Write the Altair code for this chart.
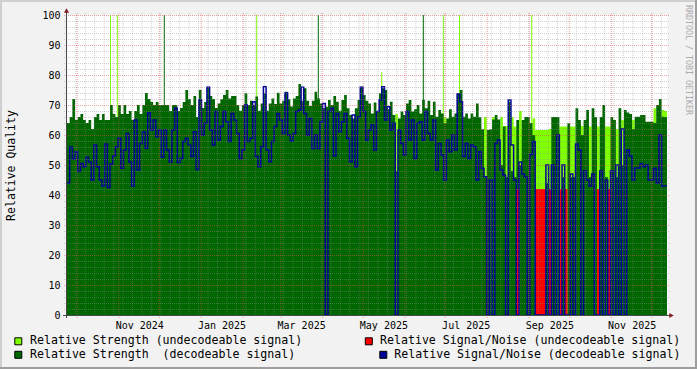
import altair as alt
import pandas as pd

# ---------------- data ----------------
# one value per time slot (slots spread evenly across the time axis)
strength_dec = [
    64, 66, 72, 65, 66, 67, 65, 64, 65, 62, 66, 67, 65, 67, 65, 65, 70, 67, 66, 70,
    67, 70, 67, 68, 65, 68, 70, 67, 70, 74, 72, 71, 70, 71, 70, 70, 70, 70, 68, 70,
    70, 68, 69, 71, 75, 72, 70, 73, 66, 75, 69, 71, 76, 73, 72, 69,
    70.5, 71.9, 73.3, 75, 72.2, 73, 73, 70, 68.1, 70, 73.9, 70, 71.4, 70, 72.8, 68.1,
    70.5, 73.9, 68.1, 70.5, 72.2, 70.3, 74.1, 70.5, 71.4, 74.4, 71.9, 69.5, 72.2, 73,
    77, 71.4, 75.6, 71.4, 69.7, 71.4, 74.4, 72.2, 70.5, 68.9, 69.4, 71.7, 70, 73, 71.1,
    68.1, 71.7, 73.3, 68.9, 66.7, 65.5, 68.9, 71.7, 76.1, 73.3,
    71.4, 70.5, 67.2, 70.8, 67.8, 73.9, 75.6, 75, 68.6, 71.1, 66.7, 48, 65.5, 67.8,
    66.7, 70.5, 71.7, 67.8, 68.6, 70, 67.2, 71.7, 68.9, 71.4, 66.7, 71.1, 66.1, 68.3,
    67.2, 63.9, 65.5, 68.6, 66.1, 67.2, 73.9, 75, 66.1, 67.2, 65.5, 67.2, 66.1, 70.5,
    65.9, 61.9, 46, 61.7, 61.9, 65.2, 66.7, 65.2, 50, 62.8, 46, 71.1, 48, 46,
    65, 50, 65, 66, 66, 64, 60, 0, 0, 0, 0, 44, 0, 66, 66, 66, 0, 46, 0, 63.9,
    46, 46, 68.9, 65, 60, 65, 68.3, 46, 68.9, 66, 0, 66, 70, 46, 0, 66, 65, 46,
    68.9, 50, 68.3, 67.5, 67, 62, 66.1, 66.1, 66.7, 66.7, 64.4, 64.4, 64.4, 64, 70, 72,
    66.1, 66,
]
strength_undec = [
    0, 0, 0, 0, 0, 0, 0, 0, 0, 0, 0, 0, 0, 0, 0, 0, 0, 0, 0, 0,
    0, 0, 0, 0, 0, 0, 0, 0, 0, 0, 0, 0, 0, 0, 0, 0, 0, 0, 0, 0,
    0, 0, 0, 0, 0, 0, 0, 0, 0, 0, 0, 0, 0, 0, 0, 0,
    0, 0, 0, 0, 0, 0, 0, 0, 0, 0, 0, 0, 0, 0, 0, 0, 0, 0, 0, 0,
    0, 0, 0, 0, 0, 0, 0, 0, 0, 0, 0, 0, 0, 0, 0, 0, 0, 0, 0, 0,
    0, 0, 0, 0, 0, 0, 0, 0, 0, 0, 0, 0, 0, 0, 0,
    0, 0, 0, 0, 0, 0, 0, 0, 0, 0, 0, 67, 0, 0, 0, 0, 0, 0, 0, 0,
    0, 0, 0, 0, 0, 0, 0, 0, 0, 66, 0, 0, 0, 0, 0, 0, 0, 0, 0, 0,
    0, 0, 0, 0, 66, 0, 0, 66, 0, 0, 66, 63, 63, 0, 66, 62.8,
    62, 68, 62, 0, 62, 62, 65.5, 61.7, 61.7, 61.7, 61.7, 61.7, 62, 62, 62, 62,
    62.8, 62.8, 62.8, 62.8, 62.8, 62.8, 0, 63, 63, 0, 0, 62.8, 0, 0, 62.8, 0, 0,
    62.8, 62.8, 62, 0, 62, 0, 65, 0, 0, 0, 65, 0, 0, 0, 0, 0, 0, 0, 68.9, 0, 0,
    68.3, 68,
]
snr_dec = [
    44, 56, 52, 54.4, 47.8, 50.5, 49.4, 52.6, 51, 45, 56.7, 49.4, 45, 43, 57, 42.5,
    50.3, 53, 56, 58.9, 48.9, 55, 60.5, 51, 43, 65, 48.3, 57.2, 61, 55.6, 67.4, 61.7,
    65, 59.4, 61.7, 52.6, 61.7, 55, 51, 61.7, 68.9, 50.8, 52.2, 57.8, 58.9, 56.7, 52.8,
    61.1, 48.5, 71.7, 60, 63.9, 75.9, 61.7, 56.7, 67.8,
    58.3, 62.8, 67.8, 64.4, 57.8, 67.2, 65, 60.5, 52.2, 55, 70, 57.8, 58.9, 71.1, 52.8,
    49.4, 56.1, 76.1, 55, 51.1, 57.8, 62.8, 67.2, 65, 60.5, 74, 60, 58, 60.5, 67.8,
    68.3, 75.9, 67.2, 60, 65.5, 55.5, 60, 55.5, 64.4, 70.5, 0, 67.8, 68.9, 53, 67.2,
    61.1, 64.4, 67.2, 58.9, 51.1, 66.7, 49.4, 66.1, 75.9, 67.8,
    58.3, 61.7, 63.3, 55, 67.8, 71.7, 76.1, 65, 69.4, 61.7, 63.9, 0, 61.7, 57.2, 53.3,
    67.8, 58.3, 65, 52.2, 63.9, 64.4, 58.3, 67.8, 60.5, 58.3, 65, 48.3, 57.2, 53.3, 45,
    58.3, 54.4, 60, 55, 73.7, 71.1, 52.8, 57.2, 52.2, 56.7, 56.1, 45, 54.4, 48.9, 46.1,
    0, 45, 0, 57.2, 58.3, 48.3, 46.7, 0, 71.7, 56.7, 45,
    0, 51, 47, 46, 0, 53.5, 57.8, 0, 0, 0, 0, 50, 0, 50, 0, 60, 0, 50, 0, 0,
    47, 0, 57, 55, 0, 48, 45, 43, 47, 0, 0, 48, 0, 45, 0, 48, 0, 50, 0, 62,
    0, 55, 53, 45, 49, 49, 50.5, 49.4, 50, 45, 45, 48.9, 44, 60, 43, 43,
]
snr_undec = [
    0, 0, 0, 0, 0, 0, 0, 0, 0, 0, 0, 0, 0, 0, 0, 0, 0, 0, 0, 0,
    0, 0, 0, 0, 0, 0, 0, 0, 0, 0, 0, 0, 0, 0, 0, 0, 0, 0, 0, 0,
    0, 0, 0, 0, 0, 0, 0, 0, 0, 0, 0, 0, 0, 0, 0, 0,
    0, 0, 0, 0, 0, 0, 0, 0, 0, 0, 0, 0, 0, 0, 0, 0, 0, 0, 0, 0,
    0, 0, 0, 0, 0, 0, 0, 0, 0, 0, 0, 0, 0, 0, 0, 0, 0, 0, 0, 0,
    0, 0, 0, 0, 0, 0, 0, 0, 0, 0, 0, 0, 0, 0, 0,
    0, 0, 0, 0, 0, 0, 0, 0, 0, 0, 0, 0, 0, 0, 0, 0, 0, 0, 0, 0,
    0, 0, 0, 0, 0, 0, 0, 0, 0, 0, 0, 0, 0, 0, 0, 0, 0, 0, 0, 0,
    0, 0, 0, 0, 0, 0, 0, 0, 0, 0, 0, 0, 0, 0, 0, 0,
    42, 0, 0, 0, 0, 0, 0, 42, 42, 42, 42, 0, 42, 0, 0, 0, 42, 0, 42, 0,
    0, 0, 0, 0, 0, 0, 0, 0, 0, 0, 42, 0, 0, 0, 42, 0, 0, 0, 0, 0,
    0, 0, 0, 0, 0, 0, 0, 0, 0, 0, 0, 0, 0, 0, 0, 0,
]

# single-sample spikes
spike_times = ["2024-10-25T17:00", "2024-10-30T18:00", "2024-12-04T14:00",
               "2025-02-11T02:00", "2025-03-28T18:00", "2025-05-14T18:00",
               "2025-06-14T14:00", "2025-06-29T10:00", "2025-07-11T10:00",
               "2025-09-02T22:00"]
spike_values = [100, 100, 100, 100, 100, 81, 100, 100, 100, 100]
spike_kind = ["undecodeable", "undecodeable", "decodeable", "undecodeable",
              "decodeable", "undecodeable", "decodeable", "undecodeable",
              "undecodeable", "undecodeable"]

x_label_dates = ["2024-11-16", "2025-01-16", "2025-03-16", "2025-05-16",
                 "2025-07-16", "2025-09-16", "2025-11-16"]
y_label_values = [0, 10, 20, 30, 40, 50, 60, 70, 80, 90, 100]
legend_labels = ["Relative Strength (undecodeable signal)",
                 "Relative Strength\u00a0 (decodeable signal)",
                 "Relative Signal/Noise (undecodeable signal)",
                 "Relative Signal/Noise (decodeable signal)"]

START = pd.Timestamp("2024-09-23 10:48")
END = pd.Timestamp("2025-12-12 05:17")

# ---------------- styling ----------------
FONT = "DejaVu Sans Mono"
C_LIGHT = "#80FF00"
C_DARK = "#006600"
C_RED = "#FF0000"
C_BLUE = "#000099"


def dt(ts):
    return alt.DateTime(year=ts.year, month=ts.month, date=ts.day,
                        hours=ts.hour, minutes=ts.minute)


n = len(strength_dec)
step = (END - START) / n
times = [START + step * i for i in range(n)] + [END]


def ext(a):
    return list(a) + [a[-1]]


df = pd.DataFrame({"t": times, "sd": ext(strength_dec), "su": ext(strength_undec),
                   "nd": ext(snr_dec), "nu": ext(snr_undec)})
spike_df = pd.DataFrame({"t": pd.to_datetime(spike_times), "val": spike_values,
                         "kind": spike_kind})
month_df = pd.DataFrame({"t": pd.date_range(START.normalize(), END, freq="MS")})
week_df = pd.DataFrame({"t": pd.date_range(START.normalize(), END, freq="W-MON")})
ymajor_df = pd.DataFrame({"v": y_label_values})
yminor_df = pd.DataFrame({"v": [v for v in range(2, 100, 2) if v % 10]})
one = pd.DataFrame({"k": [0]})

xscale = alt.Scale(domain=[dt(START), dt(END)])
yscale = alt.Scale(domain=[0, 100], nice=False, zero=True)
xaxis = alt.Axis(values=[dt(pd.Timestamp(s)) for s in x_label_dates], format="%b %Y",
                 labelFont=FONT, labelFontSize=10, labelColor="#000000",
                 domain=False, ticks=False, tickSize=0, grid=False, labelPadding=5,
                 labelFlush=False, labelOverlap=False, title=None)
yaxis = alt.Axis(values=y_label_values, labelFont=FONT, labelFontSize=10,
                 labelColor="#000000", domain=False, ticks=False, tickSize=0,
                 grid=False, labelPadding=7, title="Relative Quality",
                 titleFont=FONT, titleFontSize=11.5, titleFontWeight="normal",
                 titleColor="#000000", titleX=-56, titleY=150, titleAngle=270,
                 titleAlign="center", titleBaseline="middle")

X = alt.X("t:T", scale=xscale, axis=xaxis)


def Y(field):
    return alt.Y(f"{field}:Q", scale=yscale, axis=yaxis)


base = alt.Chart(df)
light = base.mark_area(interpolate="step-after", color=C_LIGHT).encode(x=X, y=Y("su"))
spikes = alt.Chart(spike_df).mark_rule(strokeWidth=1).encode(
    x=X, y=Y("val"), y2=alt.datum(0),
    color=alt.Color("kind:N", scale=alt.Scale(domain=["undecodeable", "decodeable"],
                                              range=[C_LIGHT, C_DARK]), legend=None))
dark = base.mark_area(interpolate="step-after", color=C_DARK).encode(x=X, y=Y("sd"))
red = base.mark_area(interpolate="step-after", color=C_RED).encode(x=X, y=Y("nu"))
blue = base.mark_line(interpolate="step-after", color=C_BLUE, strokeWidth=1.5).encode(
    x=X, y=Y("nd"))

vminor = alt.Chart(week_df).mark_rule(color="#8F8F8F", strokeDash=[1, 1], opacity=0.4).encode(
    x=X, y=alt.value(-2), y2=alt.value(302))
hminor = alt.Chart(yminor_df).mark_rule(color="#8F8F8F", strokeDash=[1, 1], opacity=0.4,
                                        yOffset=0.5).encode(
    y=Y("v"), x=alt.value(-3), x2=alt.value(602))
vmajor = alt.Chart(month_df).mark_rule(color="#DE4F4F", strokeDash=[1, 1], opacity=0.5).encode(
    x=X, y=alt.value(-2), y2=alt.value(303))
hmajor = alt.Chart(ymajor_df).mark_rule(color="#DE4F4F", strokeDash=[1, 1], opacity=0.5,
                                        yOffset=0.5).encode(
    y=Y("v"), x=alt.value(-3), x2=alt.value(602))

deco = alt.Chart(one)
AX = "#4A4A4A"
y_line = deco.mark_rule(color=AX, strokeWidth=1).encode(
    x=alt.value(-0.5), y=alt.value(-3), y2=alt.value(303))
x_line = deco.mark_rule(color=AX, strokeWidth=1).encode(
    x=alt.value(-4), x2=alt.value(603), y=alt.value(300.5))
arrow_up = deco.mark_point(shape="triangle-up", filled=True, size=26, color="#801F1F",
                           opacity=1).encode(x=alt.value(-0.5), y=alt.value(-4.5))
arrow_right = deco.mark_point(shape="triangle-right", filled=True, size=26, color="#801F1F",
                              opacity=1).encode(x=alt.value(604.5), y=alt.value(300.5))

b_top = deco.mark_rule(color="#CFCFCF", strokeWidth=2).encode(
    x=alt.value(-67), x2=alt.value(630), y=alt.value(-14))
b_left = deco.mark_rule(color="#CFCFCF", strokeWidth=2).encode(
    x=alt.value(-66), y=alt.value(-15), y2=alt.value(354))
b_bottom = deco.mark_rule(color="#9E9E9E", strokeWidth=2).encode(
    x=alt.value(-67), x2=alt.value(630), y=alt.value(353))
b_right = deco.mark_rule(color="#9E9E9E", strokeWidth=2).encode(
    x=alt.value(629), y=alt.value(-15), y2=alt.value(354))

watermark = deco.mark_text(text="RRDTOOL / TOBI OETIKER", angle=90, font=FONT,
                           fontSize=8.3, color="#ABABAB", align="left",
                           baseline="middle").encode(x=alt.value(621.3), y=alt.value(-10))

legend_layers = []
legend_spec = [  # (label index, colour, swatch x, text x, y)
    (0, C_LIGHT, -48.7, -37, 326.3),
    (1, C_DARK, -48.7, -37, 339.8),
    (2, C_RED, 301.8, 313, 326.3),
    (3, C_BLUE, 316.3, 327.3, 339.8),
]
for idx, col, sx, tx, yy in legend_spec:
    legend_layers.append(deco.mark_square(size=49, color=col, filled=True, opacity=1,
                                          stroke="#000000", strokeWidth=1).encode(
        x=alt.value(sx), y=alt.value(yy)))
    legend_layers.append(deco.mark_text(text=legend_labels[idx], font=FONT, fontSize=11.6,
                                        color="#000000", align="left",
                                        baseline="middle").encode(
        x=alt.value(tx), y=alt.value(yy)))

chart = alt.layer(
    light, spikes, dark, red, blue,
    vminor, hminor, vmajor, hmajor,
    y_line, x_line, arrow_up, arrow_right,
    b_top, b_left, b_bottom, b_right, watermark,
    *legend_layers,
).properties(
    width=600, height=300, background="#F2F2F2",
    padding={"left": 67, "top": 15, "right": 30, "bottom": 54},
    autosize=alt.AutoSizeParams(type="none"),
).configure_view(fill="white", stroke="transparent")

chart.save("out.html", embed_options={"renderer": "svg", "actions": False})
